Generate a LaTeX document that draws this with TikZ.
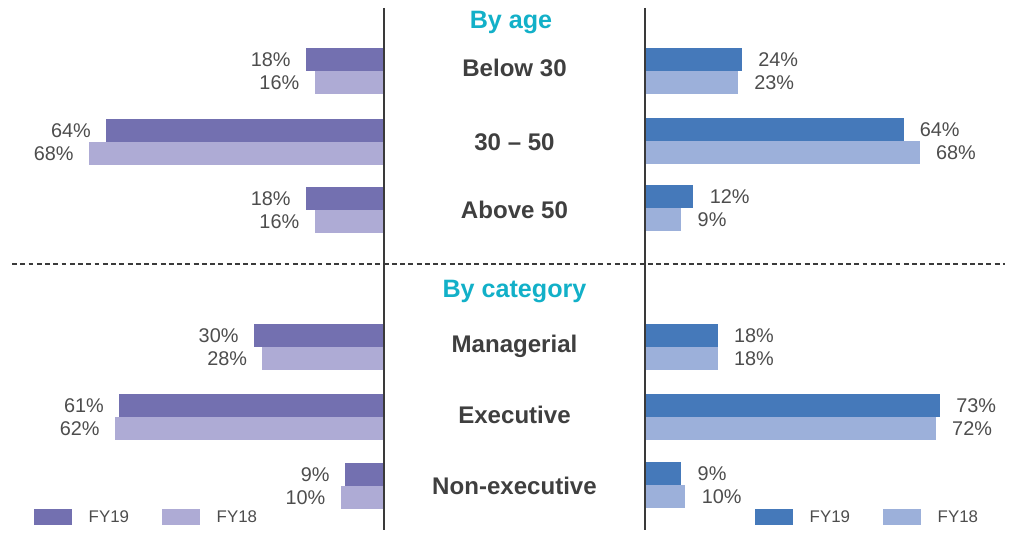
\documentclass[tikz,border=0pt]{standalone}
\usepackage{fontspec}
\setmainfont{Liberation Sans}
\usetikzlibrary{positioning}

\definecolor{leftnew}{HTML}{7370B0}
\definecolor{leftold}{HTML}{AEABD5}
\definecolor{rightnew}{HTML}{4579BA}
\definecolor{rightold}{HTML}{9CB0DA}
\definecolor{valuegray}{HTML}{4D4D4D}
\definecolor{catgray}{HTML}{3F3F3F}
\definecolor{headcyan}{HTML}{12B0C8}
\definecolor{axisgray}{HTML}{3A3A3A}

\begin{document}
\begin{tikzpicture}[x=0.02cm,y=-0.02cm,
		every node/.style={inner sep=0pt},
		valuelabel/.style={font=\fontsize{11.3}{13}\selectfont,text=valuegray},
		catlabel/.style={font=\bfseries\fontsize{13.7}{16}\selectfont,text=catgray},
		headlabel/.style={font=\bfseries\fontsize{14.3}{17}\selectfont,text=headcyan},
		keylabel/.style={font=\fontsize{9.6}{11}\selectfont,text=valuegray},
		keybox/.style={minimum width=0.76cm,minimum height=0.32cm},
		axisline/.style={draw=axisgray,line width=0.7pt}]
		\useasboundingbox (0,0) rectangle (1009,537);

		% left side, FY19 above FY18
		\foreach \yc/\a/\b [count=\i] in {71/18/16,142/64/68,210/18/16,347/30/28,417/61/62,486/9/10}{
			\fill[leftnew] (384-4.34*\a,\yc-23) rectangle (384,\yc);
			\fill[leftold] (384-4.34*\b,\yc) rectangle (384,\yc+23);
			\node[valuelabel,anchor=east] (lnew\i) at (384-4.34*\a-15,\yc-11.5) {\a\%};
			\node[valuelabel,anchor=east] (lold\i) at (384-4.34*\b-15,\yc+11.5) {\b\%};
		}

		% right side
		\foreach \yc/\a/\b [count=\i] in {71/24/23,141/64/68,208/12/9,347/18/18,417/73/72,485/9/10}{
			\fill[rightnew] (645,\yc-23) rectangle (645+4.04*\a,\yc);
			\fill[rightold] (645,\yc) rectangle (645+4.04*\b,\yc+23);
			\node[valuelabel,anchor=west] (rnew\i) at (645+4.04*\a+16,\yc-11.5) {\a\%};
			\node[valuelabel,anchor=west] (rold\i) at (645+4.04*\b+16,\yc+11.5) {\b\%};
		}

		\draw[axisline] (384,8) -- (384,530);
		\draw[axisline] (645,8) -- (645,530);
		\draw[axisgray,line width=0.6pt,dash pattern=on 2.8pt off 1.9pt] (12,264) -- (1005,264);

		% middle column
		\node[headlabel] (age) at (511,23) {By age};
		\node[catlabel] (below) at (514.5,68) {Below 30};
		\node[catlabel] (mid) at (514.5,142) {30 – 50};
		\node[catlabel] (above) at (514.5,210) {Above 50};
		\node[headlabel] (cat) at (514.5,292) {By category};
		\node[catlabel] (mgr) at (514.5,346) {Managerial};
		\node[catlabel] (exe) at (514.5,415) {Executive};
		\node[catlabel] (nonexe) at (514.5,486) {Non-executive};

		% legends
		\node[keybox,fill=leftnew] (keyLnew) at (53,517) {};
		\node[keylabel,right=0.32cm of keyLnew] (keyLnewtxt) {FY19};
		\node[keybox,fill=leftold] (keyLold) at (181,517) {};
		\node[keylabel,right=0.32cm of keyLold] (keyLoldtxt) {FY18};
		\node[keybox,fill=rightnew] (keyRnew) at (774,517) {};
		\node[keylabel,right=0.32cm of keyRnew] (keyRnewtxt) {FY19};
		\node[keybox,fill=rightold] (keyRold) at (902,517) {};
		\node[keylabel,right=0.32cm of keyRold] (keyRoldtxt) {FY18};
\end{tikzpicture}
\end{document}
